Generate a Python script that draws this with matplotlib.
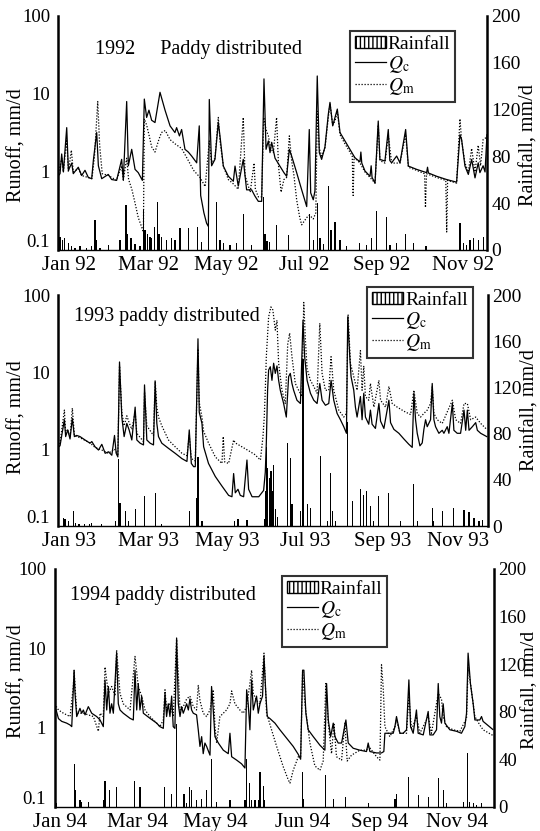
"""Runoff (log) and rainfall (bars) for the paddy-distributed model, 1992-1994."""

import matplotlib
matplotlib.use('Agg')
import matplotlib.pyplot as plt
from matplotlib.patches import Patch
from matplotlib.lines import Line2D
from matplotlib.ticker import NullLocator
from matplotlib.transforms import offset_copy

plt.rcParams['font.family'] = ['Liberation Serif', 'DejaVu Serif']
plt.rcParams['mathtext.fontset'] = 'stix'

# ---------------- 1992 ----------------
qc92_day = [0, 1.2, 2.5, 3.8, 6.4, 7.7, 10.3, 11.5, 15.4, 18,
            20.6, 23.2, 25.8, 27.1, 29.7, 31, 33.6, 38.7, 41.3, 45.2,
            49.1, 50.4, 53, 54.3, 56.9, 59.5, 62, 65.2, 66.7, 68.5,
            70.3, 72.4, 75, 78.9, 82.8, 86.7, 90.5, 91.8, 94, 95.7,
            98.3, 100.9, 103.5, 107.4, 109.4, 110.5, 113, 115.1, 116.5, 117.2,
            119, 121.6, 124.2, 125.5, 128.1, 132, 135.9, 137.2, 139.7, 143.6,
            146.2, 150.1, 152.7, 155.3, 157.9, 159.7, 161.3, 163.1, 164.4, 165.7,
            168.3, 172.1, 175.2, 177.3, 179.4, 181.2, 185.1, 189, 192.9, 194.9,
            196, 198, 199.3, 201.1, 202.7, 204.5, 207.1, 209.7, 211, 213.1,
            214.9, 216.7, 218.8, 222.6, 226.5, 230.4, 234.3, 235, 235.7, 238.2,
            242.1, 243, 243.7, 246, 247.2, 248.5, 249.8, 253.7, 256.3, 257.5,
            258.9, 262.8, 265.4, 269.8, 271.9, 278.3, 286.1, 286.8, 287.5, 293.9,
            301.6, 309.4, 312, 313.3, 315.9, 318.5, 321.1, 323.7, 326.2, 327.5,
            330, 331.5, 333]
qc92 = [0.9, 0.95, 1.7, 1.0, 3.7, 1.05, 1.3, 0.95, 1.15, 0.9,
        1.05, 0.85, 0.82, 1.4, 3.2, 1.2, 0.82, 0.93, 0.8, 0.78,
        1.45, 0.78, 8.0, 1.2, 1.95, 1.08, 0.98, 0.78, 8.6, 5.0,
        6.2, 4.6, 4.3, 10.5, 6.2, 3.9, 3.2, 3.7, 2.9, 3.5,
        1.95, 1.8, 1.6, 1.31, 3.9, 0.5, 0.3, 0.22, 0.2, 8.5,
        1.2, 1.45, 4.3, 2.9, 1.19, 0.88, 0.76, 1.19, 0.66, 1.45,
        0.59, 0.59, 0.49, 0.42, 0.42, 15.6, 1.95, 2.5, 1.77, 2.4,
        1.5, 1.19, 0.98, 0.88, 1.95, 1.6, 0.98, 0.59, 0.36, 3.5,
        0.54, 0.44, 0.57, 17, 1.77, 1.45, 2.1, 5.5, 7.8, 3.9,
        5.0, 6.4, 3.2, 2.5, 1.95, 1.52, 1.35, 1.8, 1.3, 1.03,
        0.88, 1.2, 0.85, 0.72, 1.77, 4.5, 1.45, 1.38, 3.5, 1.4,
        1.31, 1.6, 1.31, 3.5, 1.19, 1.08, 0.98, 1.15, 0.97, 0.88,
        0.8, 0.74, 3.0, 2.6, 1.19, 0.93, 1.45, 0.84, 1.31, 0.98,
        1.2, 1.0, 3.0]
qm92_day = [0, 2.5, 3.8, 6.4, 7.7, 10, 11.5, 15.4, 18, 23,
            26, 28, 30.5, 32, 34, 39, 45, 49, 50.4, 53,
            54.5, 57, 59.5, 62, 64.5, 66, 66.7, 68.5, 70.3, 72.4,
            75, 78, 80, 83, 86.7, 90.5, 95.7, 100.9, 105, 110,
            114, 117.2, 119, 121.6, 124.2, 125.5, 128.1, 132, 136, 139.7,
            143.6, 145, 149, 152, 153, 155.3, 157.9, 159.5, 161.3, 163.1,
            165, 167, 169.5, 171, 173, 175.2, 177.3, 179.4, 181.2, 183,
            185.1, 187.5, 189, 192.9, 195, 198, 200, 201.1, 202.7, 204.5,
            207.1, 209.7, 211, 213.1, 214.9, 216.7, 218.8, 222.6, 226.5, 228.3,
            229, 229.7, 234.3, 238.2, 242.1, 246, 247.2, 248.5, 249.8, 253.7,
            256.3, 258.9, 265.4, 269.8, 271.9, 278.3, 284.5, 285.2, 286, 293.9,
            301, 301.7, 302.4, 309.4, 312, 313.3, 315.9, 318.5, 321.1, 323.7,
            326.2, 328, 330, 333]
qm92 = [0.95, 1.5, 1.0, 2.6, 1.0, 1.9, 1.0, 1.1, 0.9, 0.85,
        0.82, 1.6, 8.0, 2.2, 0.95, 0.9, 0.78, 1.2, 0.8, 1.5,
        0.8, 0.6, 0.4, 0.26, 0.2, 0.17, 4.8, 4.0, 3.0, 2.1,
        1.8, 2.6, 3.2, 3.4, 2.6, 2.3, 2.0, 1.4, 1.05, 0.85,
        0.65, 2.5, 1.3, 1.5, 5.0, 2.5, 1.2, 0.8, 0.7, 0.6,
        5.0, 0.9, 0.55, 1.3, 0.6, 0.48, 0.48, 5.0, 3.5, 2.9,
        2.0, 1.77, 5.0, 1.2, 0.55, 0.8, 0.85, 2.9, 1.4, 0.9,
        0.44, 0.26, 0.21, 0.26, 0.28, 0.25, 0.3, 6.0, 2.0, 1.6,
        2.0, 5.0, 7.5, 4.0, 4.5, 6.0, 3.0, 2.3, 1.8, 1.6,
        0.5, 1.55, 1.3, 1.0, 0.85, 0.72, 1.6, 4.0, 1.4, 1.3,
        3.0, 1.3, 1.3, 3.0, 1.15, 1.05, 0.95, 0.35, 0.95, 0.85,
        0.78, 0.17, 0.78, 0.72, 4.8, 2.5, 1.3, 1.0, 2.0, 1.0,
        2.2, 1.2, 2.6, 2.8]
rain92_day = [1.2, 3, 5, 7.7, 10.3, 12.8, 16.7, 22, 25.8, 28.4,
              29.7, 32.3, 38.7, 47.8, 52.5, 53.8, 56.4, 59.5, 63.3, 66,
              67.2, 69.3, 71.1, 72.4, 74.5, 77.1, 78.1, 80.2, 84, 88,
              90.5, 94.4, 100.9, 108.2, 111.3, 116.5, 123, 125.5, 128, 133.3,
              138.5, 143.6, 150, 159.2, 160.5, 162, 164, 169.5, 178.6, 195,
              198, 201.1, 203.2, 205.8, 209.7, 211.3, 212.5, 214.9, 218.8, 224,
              233.8, 239.5, 243.4, 247.2, 255, 257.6, 262.8, 269.8, 275.7, 285.6,
              312, 314.6, 317.2, 319.8, 322.4, 326.2, 330]
rain92 = [11, 8.5, 10, 5.7, 3, 2, 3, 1.5, 3, 25.6,
          8.5, 2, 4, 8.5, 38.5, 14, 10, 5, 3, 34,
          17, 14, 11, 10, 20, 41, 14, 11, 8.5, 10,
          8.5, 18.5, 18.5, 20, 7, 37, 41, 8.5, 5.7, 4,
          5.7, 31, 4, 45, 14, 8, 7, 21, 13, 31,
          8.5, 40, 10, 5, 55, 17, 17, 24, 8.5, 3,
          5.7, 4, 10, 33, 28, 4, 5.7, 14, 5.7, 3,
          23, 5.7, 4, 8.5, 10, 8.5, 11]

# ---------------- 1993 ----------------
qc93_day = [0, 1.2, 4.6, 5.6, 7.2, 9, 10.8, 12.4, 14.2, 16.8,
            20.7, 24.6, 26, 28.5, 31.2, 33.8, 36.4, 39, 41.6, 43.7,
            45, 46.3, 47.6, 49.4, 51.2, 53.3, 55.1, 57.2, 59.8, 61.1,
            63.7, 66.3, 67.1, 68.9, 71.5, 74.1, 75.4, 76.7, 78, 80.6,
            85.8, 91, 96.3, 100.2, 102, 103.6, 105.4, 106.7, 108.8, 109.8,
            111.9, 113.2, 117, 122.3, 127.5, 132.7, 135.3, 136.6, 137.9, 140,
            141.8, 144.4, 147, 148.3, 151, 156.2, 160, 161.3, 162.1, 163.1,
            163.9, 165.2, 166.5, 167.8, 169.1, 170.4, 171.7, 173, 175.6, 177.7,
            179.5, 180.8, 182.1, 183.4, 186, 188.7, 190.7, 192, 193.9, 196.5,
            199.1, 201.7, 203.8, 205.6, 208.2, 210.8, 212.6, 214.7, 217.3, 219.9,
            222.5, 224.6, 225.6, 227.2, 228.2, 230.3, 231.6, 232.9, 235.5, 236.8,
            238.1, 239.4, 242, 243.3, 244.6, 247.2, 249.9, 251.2, 253.8, 257.7,
            259, 261.6, 265.5, 269.4, 273.3, 275.9, 277.2, 278.5, 279.8, 281.9,
            283.7, 285, 286.3, 287.6, 290.2, 291.5, 292.8, 294.1, 296.7, 299.3,
            300.6, 303.2, 304.5, 307.2, 308.4, 311, 313.6, 316.3, 317.6, 318.9,
            320.2, 322.8, 325.4, 326.7, 329.3, 334]
qc93 = [1.07, 1.1, 2.4, 1.45, 1.77, 1.35, 2.5, 1.45, 1.5, 1.45,
        1.31, 1.19, 1.25, 1.07, 0.97, 1.15, 0.88, 0.92, 0.83, 1.5,
        0.88, 0.79, 13.5, 2.6, 1.45, 2.15, 1.77, 1.31, 3.5, 1.31,
        1.19, 1.13, 6.8, 1.31, 1.19, 1.13, 7.5, 2.15, 1.45, 1.19,
        1.02, 0.88, 0.75, 0.69, 1.77, 0.65, 0.59, 0.59, 27, 3.0,
        2.15, 1.07, 0.65, 0.44, 0.33, 0.25, 0.24, 0.48, 0.27, 0.3,
        0.25, 0.24, 0.72, 0.3, 0.24, 0.24, 0.29, 0.5, 1.2, 5.8,
        10.6, 11.7, 7.8, 13, 9.6, 12, 7.8, 5.8, 3.9, 2.6,
        8.7, 9.6, 7.1, 5.8, 4.3, 3.9, 47, 15.8, 7.8, 5.3,
        4.3, 3.9, 7.1, 4.3, 3.7, 3.9, 7.8, 4.3, 2.9, 2.4,
        1.95, 1.6, 52, 15.8, 8.7, 5.8, 3.5, 2.6, 4.8, 2.4,
        5.3, 2.6, 2.1, 3.2, 2.1, 1.85, 3.9, 2.3, 1.85, 4.3,
        2.2, 1.8, 1.6, 1.35, 1.15, 1.05, 5.3, 2.4, 1.6, 1.1,
        1.2, 1.8, 2.4, 1.95, 2.4, 7.1, 2.4, 1.95, 1.6, 1.75,
        1.6, 1.95, 1.6, 3.9, 1.75, 1.6, 1.6, 3.2, 1.75, 3.2,
        1.75, 1.95, 2.2, 1.75, 1.6, 1.45]
qm93_day = [0, 1.2, 4.6, 5.6, 7.2, 9, 10.8, 12.4, 16.8, 24.6,
            28.5, 33.8, 39, 43.7, 46.3, 47.6, 49.4, 51.2, 53.3, 55.1,
            57.2, 59.8, 61.1, 66.3, 67.1, 68.9, 74.1, 75.4, 76.7, 78,
            80.6, 85.8, 91, 96.3, 100.2, 102, 103.6, 106.7, 108.8, 109.8,
            111.9, 113.2, 117, 122.3, 127.5, 128.5, 129.6, 132.7, 136.6, 137.9,
            143, 148.3, 153, 157.5, 159.5, 160.5, 161.3, 162.1, 163.9, 165.7,
            167.2, 169.1, 170.4, 171.7, 174.3, 176.9, 178.8, 180.3, 182.1, 184.7,
            187.3, 189.9, 191.3, 192.6, 193.9, 196.5, 199.1, 201.7, 203.8, 205.6,
            208.2, 210.8, 212.6, 214.7, 218.6, 222.5, 224.6, 225.9, 227.7, 230.3,
            232.9, 235.5, 236.8, 238.1, 239.4, 242, 243.3, 246, 249.9, 251.2,
            255.1, 257.7, 260.3, 264.2, 269.4, 274.6, 277.2, 279.8, 282.4, 285,
            287.6, 290.2, 291.5, 292.8, 295.4, 299.3, 307.2, 309.8, 313.6, 316.3,
            318.9, 321.5, 325.4, 329.3, 334]
qm93 = [1.07, 1.2, 3.2, 1.6, 1.8, 1.4, 3.4, 1.5, 1.4, 1.2,
        1.05, 0.97, 0.88, 1.0, 0.85, 12, 3.0, 2.0, 2.7, 2.2,
        1.8, 3.0, 1.6, 1.25, 5.5, 2.0, 1.5, 7.8, 3.5, 2.6,
        2.0, 1.31, 1.07, 0.88, 0.82, 1.5, 0.75, 0.7, 20, 4.0,
        2.6, 1.7, 1.2, 0.79, 0.65, 1.45, 0.68, 0.65, 1.31, 1.2,
        1.07, 0.95, 0.85, 0.72, 1.45, 2.6, 5.8, 15.8, 52, 70,
        64, 35, 47, 13, 5.8, 3.9, 23, 32, 15.8, 7.1,
        5.8, 4.8, 80, 26, 11, 7.8, 6.5, 5.3, 43, 9.6,
        5.8, 5.8, 15.8, 5.8, 3.2, 2.6, 2.9, 55, 13, 8.7,
        5.8, 19, 5.8, 12, 4.8, 4.3, 7.1, 3.5, 7.8, 4.3,
        3.5, 6.5, 3.9, 3.5, 3.1, 2.8, 5.8, 2.9, 2.6, 2.9,
        3.2, 3.9, 6.5, 2.9, 2.4, 2.15, 4.3, 2.4, 2.15, 3.9,
        3.9, 2.4, 2.6, 2.15, 1.8]
rain93_day = [3.8, 5.1, 7.7, 11.6, 13, 16, 20, 24, 26, 33.8,
              44.2, 46.8, 48, 52, 54.6, 59.8, 67.1, 75.4, 80.6, 102.3,
              108, 108.8, 111.9, 137, 140, 147, 160.5, 161.5, 162.1, 163.1,
              164.7, 165.7, 166.8, 167.8, 169.1, 171, 178.8, 180.8, 182.1, 188.7,
              190.7, 193.9, 196.5, 204.3, 209.5, 212, 213.4, 216, 225.6, 229,
              235.5, 238.1, 240.2, 243.3, 246, 249.9, 257.7, 266.8, 277.2, 279.8,
              291.5, 292.8, 299.3, 307.9, 316.3, 320.2, 324.1, 328, 331]
rain93 = [7, 6, 4, 13, 3, 2, 1.5, 2, 3, 2,
          4, 58, 20, 13, 4, 14.4, 26, 29, 1.5, 13,
          24, 60, 4, 4, 6, 5, 6, 30, 68, 50,
          42, 48, 30, 53, 15, 8, 72, 59, 19, 13,
          145, 19, 16, 61, 4, 46, 13, 4, 90, 22,
          32, 27, 30, 17, 4, 26, 29, 4, 36, 4,
          16, 4, 13, 16, 14, 12, 7, 4, 5]

# ---------------- 1994 ----------------
qc94_day = [0, 1.2, 3, 5.5, 9.3, 11.9, 13.2, 15, 15.7, 17,
            19.5, 20.8, 22.1, 23.4, 25.9, 28.5, 32.3, 34.9, 37.4, 38.7,
            40, 41.3, 42.5, 43.8, 45.1, 47.6, 48.9, 50.2, 52.7, 57.9,
            60.4, 61.7, 63, 64.2, 65.5, 66.8, 68.1, 73.2, 78.3, 80.8,
            83.4, 84.7, 85.9, 87.2, 88.5, 89.8, 91, 92.3, 93.6, 94.9,
            96.2, 97.4, 98.7, 101.3, 102.6, 103.8, 105.1, 106.4, 108.9, 110.2,
            111.5, 112.8, 114, 115.3, 116.6, 119.2, 120.4, 121.7, 123, 125.6,
            129.4, 133.2, 134.5, 135.8, 139.6, 143.4, 146, 147.3, 148.5, 149.8,
            151.1, 152.4, 154.9, 156.2, 157.5, 159.5, 160.6, 162.1, 163.1, 165.2,
            169, 172.8, 177.9, 183, 186.9, 188.7, 190.2, 191.2, 192.7, 194.5,
            198.4, 203.5, 207.3, 208.6, 209.9, 211.7, 213.7, 215, 217.5, 220.1,
            223.4, 225.2, 229, 234.1, 239.2, 240.5, 241.8, 246.9, 250.7, 252.5,
            253.3, 259.7, 261, 262.2, 263.5, 264.8, 267.3, 269.9, 271.7, 273,
            275, 277.5, 278.8, 282.7, 286.5, 287.8, 290.3, 292.9, 294.2, 295.4,
            296.7, 298, 299.3, 303.1, 308.2, 312, 314.6, 315.9, 317.1, 318.9,
            321, 322.3, 326.1, 327.4, 328.6, 336]
qc94 = [1.84, 1.67, 1.3, 1.2, 1.14, 1.08, 1.03, 5.3, 2.7, 1.38,
        1.75, 1.52, 1.67, 1.45, 1.84, 1.52, 1.38, 1.25, 1.03, 4.0,
        1.67, 3.3, 1.52, 2.0, 1.52, 8.7, 2.0, 1.67, 1.52, 1.31,
        1.25, 5.3, 1.67, 3.6, 1.67, 2.5, 1.52, 1.31, 1.14, 1.03,
        0.98, 2.7, 1.38, 2.0, 1.38, 2.5, 1.03, 0.98, 13.5, 2.0,
        1.38, 1.84, 1.52, 2.0, 1.67, 2.3, 1.67, 1.52, 1.45, 0.94,
        0.58, 0.77, 0.47, 0.64, 0.58, 0.45, 3.3, 1.67, 0.77, 0.64,
        0.52, 0.47, 0.85, 0.43, 0.39, 0.35, 0.31, 3.0, 2.0, 0.94,
        4.0, 1.67, 2.5, 1.52, 2.0, 2.5, 7.9, 2.5, 1.38, 1.3,
        1.14, 0.94, 0.74, 0.58, 0.46, 0.4, 5.3, 5.3, 1.52, 0.94,
        0.77, 0.6, 0.52, 3.6, 1.25, 0.77, 1.14, 0.77, 0.64, 0.64,
        1.25, 0.64, 0.55, 0.52, 0.5, 0.64, 0.5, 0.48, 0.48, 0.5,
        0.85, 0.85, 1.03, 1.38, 1.08, 0.85, 0.85, 0.94, 4.0, 1.03,
        0.85, 1.67, 0.85, 0.81, 1.6, 0.81, 0.81, 0.94, 3.6, 1.38,
        1.14, 2.0, 1.14, 0.94, 0.9, 0.85, 1.03, 1.52, 8.7, 3.6,
        2.0, 1.25, 1.25, 1.38, 1.2, 0.95]
qm94_day = [0, 3, 6.8, 11.9, 14.4, 15, 17, 22.1, 29.8, 33.6,
            34.9, 37.4, 38.7, 41.3, 43.8, 46.4, 47.6, 50.2, 52.7, 57.9,
            61.7, 64.2, 66.8, 69.4, 73.2, 78.3, 80.8, 83.4, 84.7, 85.9,
            88.5, 91, 93.6, 96.2, 98.7, 101.3, 103.8, 106.4, 108.9, 110.2,
            111.5, 114, 116.6, 119.2, 121.7, 123, 124.3, 126.8, 129.4, 131.9,
            134.5, 135.8, 138.3, 142.1, 144.7, 147.3, 149.8, 151.1, 152.4, 154.9,
            157.5, 160.6, 162.6, 166.4, 170.3, 175.4, 179.2, 180.5, 183, 186.9,
            188.7, 190.2, 192, 195.8, 199.6, 203.5, 206, 208, 209.9, 212.4,
            214.2, 216.2, 220.1, 222.6, 224.4, 227.7, 234.1, 239.2, 241, 243.1,
            246.9, 249.5, 250.7, 252, 253.3, 257.1, 261, 262.2, 264.8, 269.9,
            271.7, 273.7, 277.5, 280.1, 286.5, 289, 294.2, 296.7, 298, 300.5,
            305.6, 310.8, 315.9, 317.1, 318.9, 322.3, 326.1, 328.6, 336]
qm94 = [2.0, 1.67, 1.52, 1.38, 3.3, 5.3, 1.52, 1.52, 1.38, 0.9,
        1.52, 1.38, 5.8, 2.7, 3.3, 2.5, 9.5, 2.7, 2.0, 1.67,
        7.9, 3.3, 2.5, 1.67, 1.38, 1.14, 1.03, 1.25, 3.0, 1.67,
        2.0, 1.38, 13, 1.67, 1.84, 2.3, 2.5, 1.84, 1.67, 3.4,
        2.2, 1.52, 1.38, 1.67, 3.0, 1.03, 0.64, 1.38, 1.52, 1.67,
        2.0, 2.9, 2.0, 1.67, 1.52, 1.84, 3.6, 5.3, 2.7, 2.2,
        2.0, 8.7, 1.52, 0.94, 0.58, 0.32, 0.22, 0.2, 0.29, 0.43,
        0.43, 5.0, 2.0, 0.64, 0.33, 0.29, 0.38, 3.6, 1.14, 0.47,
        1.14, 0.43, 0.39, 1.14, 0.38, 0.45, 0.52, 0.52, 0.58, 0.52,
        0.43, 0.39, 6.2, 3.2, 1.03, 0.77, 1.03, 1.25, 0.85, 0.85,
        2.5, 0.94, 1.38, 0.85, 1.38, 0.85, 2.7, 2.3, 1.38, 1.03,
        0.94, 0.9, 1.31, 5.8, 3.6, 1.38, 1.08, 0.94, 0.8]
rain94_day = [0.4, 1.7, 15, 15.7, 19.5, 20.8, 25.9, 37.4, 38.7, 42,
              47.6, 61.2, 65.5, 84.2, 89.8, 93.6, 99.2, 101.3, 103.3, 105.1,
              108.9, 112.8, 116.6, 120.4, 124.3, 134.5, 146, 147.3, 149.8, 151.1,
              153.7, 156.2, 157.5, 160, 161.3, 190.2, 191.2, 208, 214.2, 223.4,
              240.5, 261, 262.2, 271.7, 278.8, 286.5, 294.2, 298, 300.5, 313.8,
              316.4, 318.4, 321, 323.5, 327.4]
rain94 = [8, 3, 36, 14, 6, 4, 4, 6, 22, 14,
          17, 22, 17, 17, 11, 70, 11, 3, 17, 14,
          6, 7, 14, 40, 4, 6, 6, 40, 20, 6,
          6, 6, 29, 18, 6, 29, 7, 27, 7, 8,
          3, 7, 11, 25, 10, 8, 24, 14, 3, 4,
          45, 4, 3, 2, 3]

panels = [
    dict(rect=[0.1083, 0.6992, 0.7935, 0.2816], xmax=333,
         qc=(qc92_day, qc92), qm=(qm92_day, qm92), rain=(rain92_day, rain92),
         ticks=[8, 70, 130, 191, 251, 314],
         labels=['Jan 92', 'Mar 92', 'May 92', 'Jul 92', 'Sep 92', 'Nov 92'],
         title='1992     Paddy distributed', title_xy=(0.085, 0.855),
         leg=(0.648, 0.9627), ylab=(-0.0735, 1.077, 0.45, 0.45), rsize=14),
    dict(rect=[0.1083, 0.367, 0.7954, 0.278], xmax=335,
         qc=(qc93_day, qc93), qm=(qm93_day, qm93), rain=(rain93_day, rain93),
         ticks=[8, 70, 131.6, 192.6, 252.7, 312],
         labels=['Jan 93', 'Mar 93', 'May 93', 'Jul 93', 'Sep 93', 'Nov 93'],
         title='1993 paddy distributed', title_xy=(0.036, 0.909),
         leg=(0.68, 0.6546), ylab=(-0.0735, 1.075, 0.47, 0.5), rsize=14),
    dict(rect=[0.101, 0.0289, 0.8139, 0.2864], xmax=337,
         qc=(qc94_day, qc94), qm=(qm94_day, qm94), rain=(rain94_day, rain94),
         ticks=[4.2, 64, 123, 190, 249, 309],
         labels=['Jan 94', 'Mar 94', 'May 94', 'Jun 94', 'Sep 94', 'Nov 94'],
         title='1994 paddy distributed', title_xy=(0.035, 0.887),
         leg=(0.522, 0.307), ylab=(-0.0626, 1.0626, 0.53, 0.49), rsize=13.5),
]

fig = plt.figure(figsize=(5.4, 8.31), dpi=100)

for p in panels:
    for d, v in (p['qc'], p['qm'], p['rain']):
        assert len(d) == len(v), (len(d), len(v))

    ax = fig.add_axes(p['rect'])
    ax2 = ax.twinx()

    ax.plot(p['qc'][0], p['qc'][1], color='black', lw=0.9)
    ax.plot(p['qm'][0], p['qm'][1], color='black', lw=0.9, ls=(0, (1, 1.4)))
    ax2.bar(p['rain'][0], p['rain'][1], width=0.9, color='black', linewidth=0)

    ax.set_yscale('log')
    ax.set_ylim(0.1, 100)
    ax.set_xlim(0, p['xmax'])
    ax.yaxis.set_minor_locator(NullLocator())
    ax.set_yticks([0.1, 1, 10, 100])
    # bottom label is drawn separately, raised a little as in the original
    ax.set_yticklabels(['', '1', '10', '100'])
    ax.text(0, 0.1, '0.1', fontsize=13.5, ha='right', va='bottom',
            transform=offset_copy(ax.transData, fig=fig, x=-6, y=-1, units='points'))
    ax.set_xticks(p['ticks'])
    ax.set_xticklabels(p['labels'])
    ax2.set_ylim(0, 200)
    ax2.set_yticks([0, 40, 80, 120, 160, 200])

    ax.tick_params(axis='y', length=0, pad=6, labelsize=13.5)
    ax.tick_params(axis='x', length=0, pad=4, labelsize=15)
    ax2.tick_params(axis='y', length=0, pad=3, labelsize=p['rsize'])

    for s in ('top', 'right'):
        ax.spines[s].set_visible(False)
    for s in ('top', 'left', 'bottom'):
        ax2.spines[s].set_visible(False)
    ax.spines['left'].set_linewidth(1.8)
    ax.spines['bottom'].set_linewidth(1.0)
    ax2.spines['right'].set_linewidth(1.8)

    ax.set_ylabel('Runoff, mm/d', fontsize=14.5)
    ax2.set_ylabel('Rainfall, mm/d', fontsize=14.5 if p['rsize'] == 14 else 14)
    lx, rx, ly, ry = p['ylab']
    ax.yaxis.set_label_coords(lx, ly)
    ax2.yaxis.set_label_coords(rx, ry)

    ax.text(p['title_xy'][0], p['title_xy'][1], p['title'], transform=ax.transAxes,
            fontsize=14.5, va='center', ha='left')

    handles = [Patch(facecolor='white', edgecolor='black', hatch='||||', lw=1.0),
               Line2D([], [], color='black', lw=0.9),
               Line2D([], [], color='black', lw=0.9, ls=(0, (1, 1.4)))]
    leg = ax2.legend(handles, ['Rainfall', r'$Q_{\rm c}$', r'$Q_{\rm m}$'],
                     loc='upper left', bbox_to_anchor=p['leg'],
                     bbox_transform=fig.transFigure, fontsize=14,
                     frameon=True, fancybox=False, edgecolor='black',
                     handlelength=1.6, handleheight=0.6, handletextpad=0.1,
                     labelspacing=0.05, borderpad=0.25, borderaxespad=0)
    leg.get_frame().set_linewidth(1.5)

fig.savefig('out.png', dpi=100)
